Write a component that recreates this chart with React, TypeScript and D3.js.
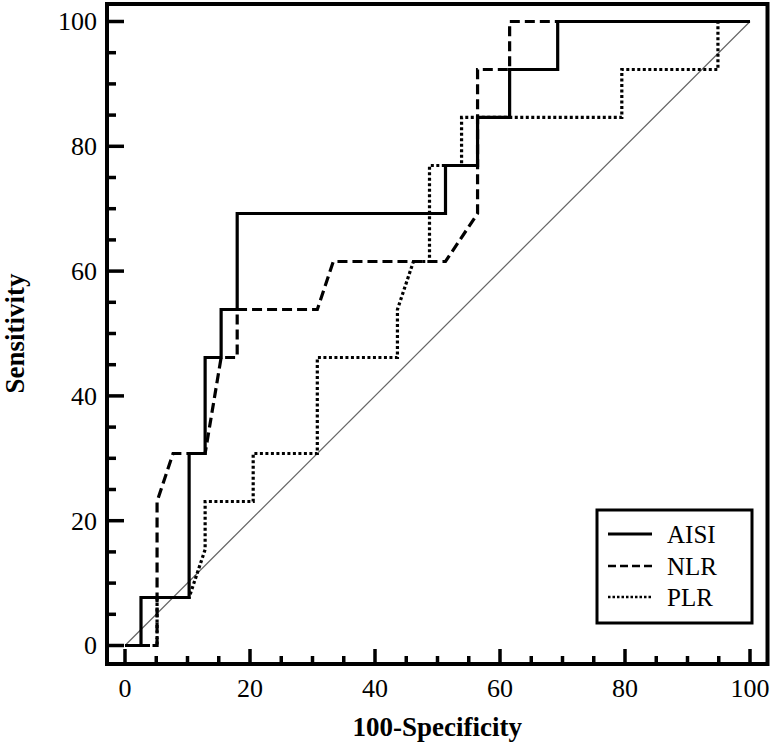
import React from "react";
import * as d3 from "d3";

// ROC curve points (100-Specificity, Sensitivity) in %
const aisiX = [0, 2.56, 2.56, 10.26, 10.26, 12.82, 12.82, 15.38, 15.38, 17.95, 17.95, 51.28, 51.28, 56.41, 56.41, 61.54, 61.54, 69.23, 69.23, 100];
const aisiY = [0, 0, 7.69, 7.69, 30.77, 30.77, 46.15, 46.15, 53.85, 53.85, 69.23, 69.23, 76.92, 76.92, 84.62, 84.62, 92.31, 92.31, 100, 100];

const nlrX = [0, 5.13, 5.13, 7.69, 12.82, 15.38, 17.95, 17.95, 30.77, 33.33, 51.28, 56.41, 56.41, 61.54, 61.54, 100];
const nlrY = [0, 0, 23.08, 30.77, 30.77, 46.15, 46.15, 53.85, 53.85, 61.54, 61.54, 69.23, 92.31, 92.31, 100, 100];

const plrX = [0, 5.13, 5.13, 10.26, 12.82, 12.82, 20.51, 20.51, 30.77, 30.77, 43.59, 43.59, 46.15, 48.72, 48.72, 53.85, 53.85, 79.49, 79.49, 94.87, 94.87, 100];
const plrY = [0, 0, 7.69, 7.69, 15.38, 23.08, 23.08, 30.77, 30.77, 46.15, 46.15, 53.85, 61.54, 61.54, 76.92, 76.92, 84.62, 84.62, 92.31, 92.31, 100, 100];

const seriesNames = ["AISI", "NLR", "PLR"];
const majorTicks = [0, 20, 40, 60, 80, 100];
const minorTicks = d3.range(0, 101, 5).filter((v) => v % 20 !== 0);
const xTitle = "100-Specificity";
const yTitle = "Sensitivity";

const FONT = "'Liberation Serif', 'Times New Roman', serif";

export default function App() {
  const x = d3.scaleLinear().domain([0, 100]).range([125, 750]);
  const y = d3.scaleLinear().domain([0, 100]).range([645.5, 21.5]);
  const frame = { left: 107, right: 767.5, top: 4, bottom: 664 };

  const line = d3
    .line<[number, number]>()
    .x((d) => x(d[0]))
    .y((d) => y(d[1]));

  const zip = (xs: number[], ys: number[]) => xs.map((v, i) => [v, ys[i]] as [number, number]);

  const styles = [
    { dash: "none", width: 3.2 },
    { dash: "10,5", width: 3.2 },
    { dash: "3,2.5", width: 3.2 },
  ];
  const data = [zip(aisiX, aisiY), zip(nlrX, nlrY), zip(plrX, plrY)];

  const legend = { x0: 597, y0: 510, x1: 752, y1: 623 };
  const legendBaselines = [543, 575, 606];

  return (
    <svg
      width={774}
      height={744}
      style={{ position: "absolute", left: 0, top: 0, background: "#fff" }}
      fontFamily={FONT}
    >
      <rect x={0} y={0} width={774} height={744} fill="#fff" />
      {/* diagonal */}
      <line x1={x(0)} y1={y(0)} x2={x(100)} y2={y(100)} stroke="#666" strokeWidth={1.2} />
      {/* curves (draw PLR first, AISI on top) */}
      {[2, 1, 0].map((i) => (
        <path
          key={i}
          d={line(data[i]) || ""}
          fill="none"
          stroke="#000"
          strokeWidth={styles[i].width}
          strokeDasharray={styles[i].dash}
          strokeLinejoin="miter"
        />
      ))}
      {/* frame */}
      <rect
        x={frame.left}
        y={frame.top}
        width={frame.right - frame.left}
        height={frame.bottom - frame.top}
        fill="none"
        stroke="#000"
        strokeWidth={4}
      />
      {/* y ticks */}
      {majorTicks.map((t) => (
        <g key={"ym" + t}>
          <line x1={frame.left} x2={124} y1={y(t)} y2={y(t)} stroke="#000" strokeWidth={3.5} />
          <text x={97} y={y(t)} dy="0.34em" textAnchor="end" fontSize={26}>
            {t}
          </text>
        </g>
      ))}
      {minorTicks.map((t) => (
        <line key={"yn" + t} x1={frame.left} x2={116} y1={y(t)} y2={y(t)} stroke="#000" strokeWidth={3.5} />
      ))}
      {/* x ticks */}
      {majorTicks.map((t) => (
        <g key={"xm" + t}>
          <line x1={x(t)} x2={x(t)} y1={frame.bottom} y2={649} stroke="#000" strokeWidth={3.5} />
          <text x={x(t)} y={697} textAnchor="middle" fontSize={26}>
            {t}
          </text>
        </g>
      ))}
      {minorTicks.map((t) => (
        <line key={"xn" + t} x1={x(t)} x2={x(t)} y1={frame.bottom} y2={656} stroke="#000" strokeWidth={3.5} />
      ))}
      {/* axis titles */}
      <text x={(frame.left + frame.right) / 2 - 0} y={736} textAnchor="middle" fontSize={27} fontWeight="bold">
        {xTitle}
      </text>
      <text
        transform={`translate(24, ${y(50)}) rotate(-90)`}
        textAnchor="middle"
        fontSize={27}
        fontWeight="bold"
      >
        {yTitle}
      </text>
      {/* legend */}
      <rect
        x={legend.x0}
        y={legend.y0}
        width={legend.x1 - legend.x0}
        height={legend.y1 - legend.y0}
        fill="#fff"
        stroke="#000"
        strokeWidth={3}
      />
      {seriesNames.map((name, i) => (
        <g key={name}>
          <line
            x1={608}
            x2={652}
            y1={legendBaselines[i] - 9}
            y2={legendBaselines[i] - 9}
            stroke="#000"
            strokeWidth={i === 0 ? 3 : 2.5}
            strokeDasharray={i === 0 ? "none" : i === 1 ? "8,4" : "2.5,2"}
          />
          <text x={667} y={legendBaselines[i]} fontSize={25}>
            {name}
          </text>
        </g>
      ))}
    </svg>
  );
}
